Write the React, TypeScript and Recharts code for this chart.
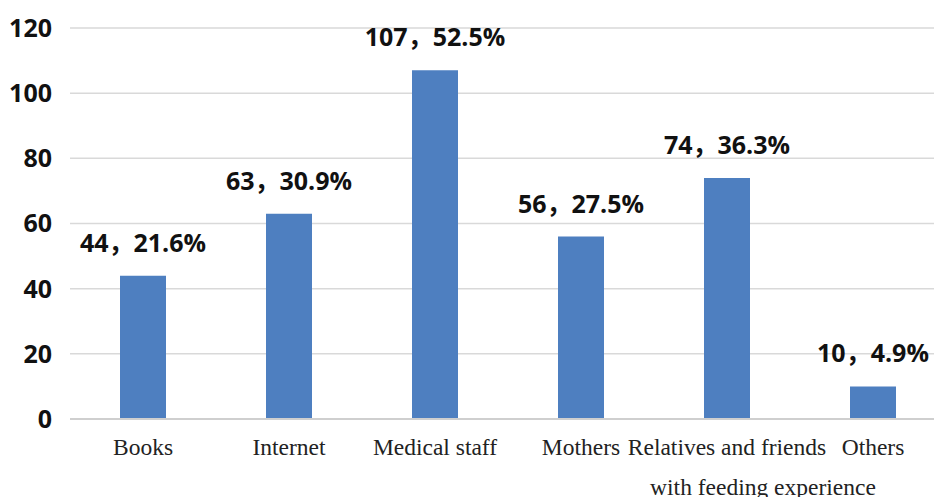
import { BarChart, Bar, XAxis, YAxis, CartesianGrid, LabelList } from "recharts";

// Sources of feeding knowledge: count and share per source.
const categories = [
  "Books",
  "Internet",
  "Medical staff",
  "Mothers",
  "Relatives and friends|with feeding experience",
  "Others",
];
const counts = [44, 63, 107, 56, 74, 10];
const percents = ["21.6", "30.9", "52.5", "27.5", "36.3", "4.9"];
const yTicks = [0, 20, 40, 60, 80, 100, 120];

const data = categories.map((name, i) => ({
  name,
  count: counts[i],
  pct: percents[i],
}));

const BAR = "#4e7fc0";
const SANS = "'Open Sans', 'Noto Sans CJK SC', sans-serif";
const SERIF = "'Liberation Serif', 'DejaVu Serif', serif";

function CategoryTick({ x, y, payload }: any) {
  const lines = String(payload.value).split("|");
  return (
    <g>
      <text x={x} y={y + 28} textAnchor="middle" fill="#222" fontSize={23.5} fontFamily={SERIF}>
        {lines[0]}
      </text>
      {lines[1] && (
        <text x={x + 36} y={y + 68} textAnchor="middle" fill="#222" fontSize={23.5} fontFamily={SERIF}>
          {lines[1]}
        </text>
      )}
    </g>
  );
}

function ValueLabel({ x, y, width, index }: any) {
  const d = data[index];
  return (
    <text
      x={x + width / 2}
      y={y - 24}
      textAnchor="middle"
      fill="#111"
      fontSize={25}
      fontWeight={700}
      fontFamily={SANS}
    >
      {`${d.count}，${d.pct}%`}
    </text>
  );
}

export default function App() {
  return (
    <div
      style={{
        position: "fixed",
        left: 0,
        top: 0,
        width: 934,
        height: 497,
        overflow: "hidden",
        background: "#fff",
      }}
    >
      <BarChart
        width={960}
        height={497}
        data={data}
        margin={{ top: 28, right: 14, bottom: 0, left: 0 }}
        barSize={46}
      >
        <CartesianGrid vertical={false} stroke="#d9d9d9" strokeWidth={1.5} />
        <XAxis
          dataKey="name"
          height={78}
          interval={0}
          tickLine={false}
          axisLine={{ stroke: "#cfcfcf", strokeWidth: 2 }}
          tick={<CategoryTick />}
        />
        <YAxis
          width={70}
          domain={[0, 120]}
          ticks={yTicks}
          tickLine={false}
          axisLine={false}
          tickMargin={12}
          tick={{ fill: "#111", fontSize: 25, fontWeight: 700, fontFamily: SANS }}
        />
        <Bar dataKey="count" fill={BAR} isAnimationActive={false}>
          <LabelList dataKey="count" content={<ValueLabel />} />
        </Bar>
      </BarChart>
    </div>
  );
}
